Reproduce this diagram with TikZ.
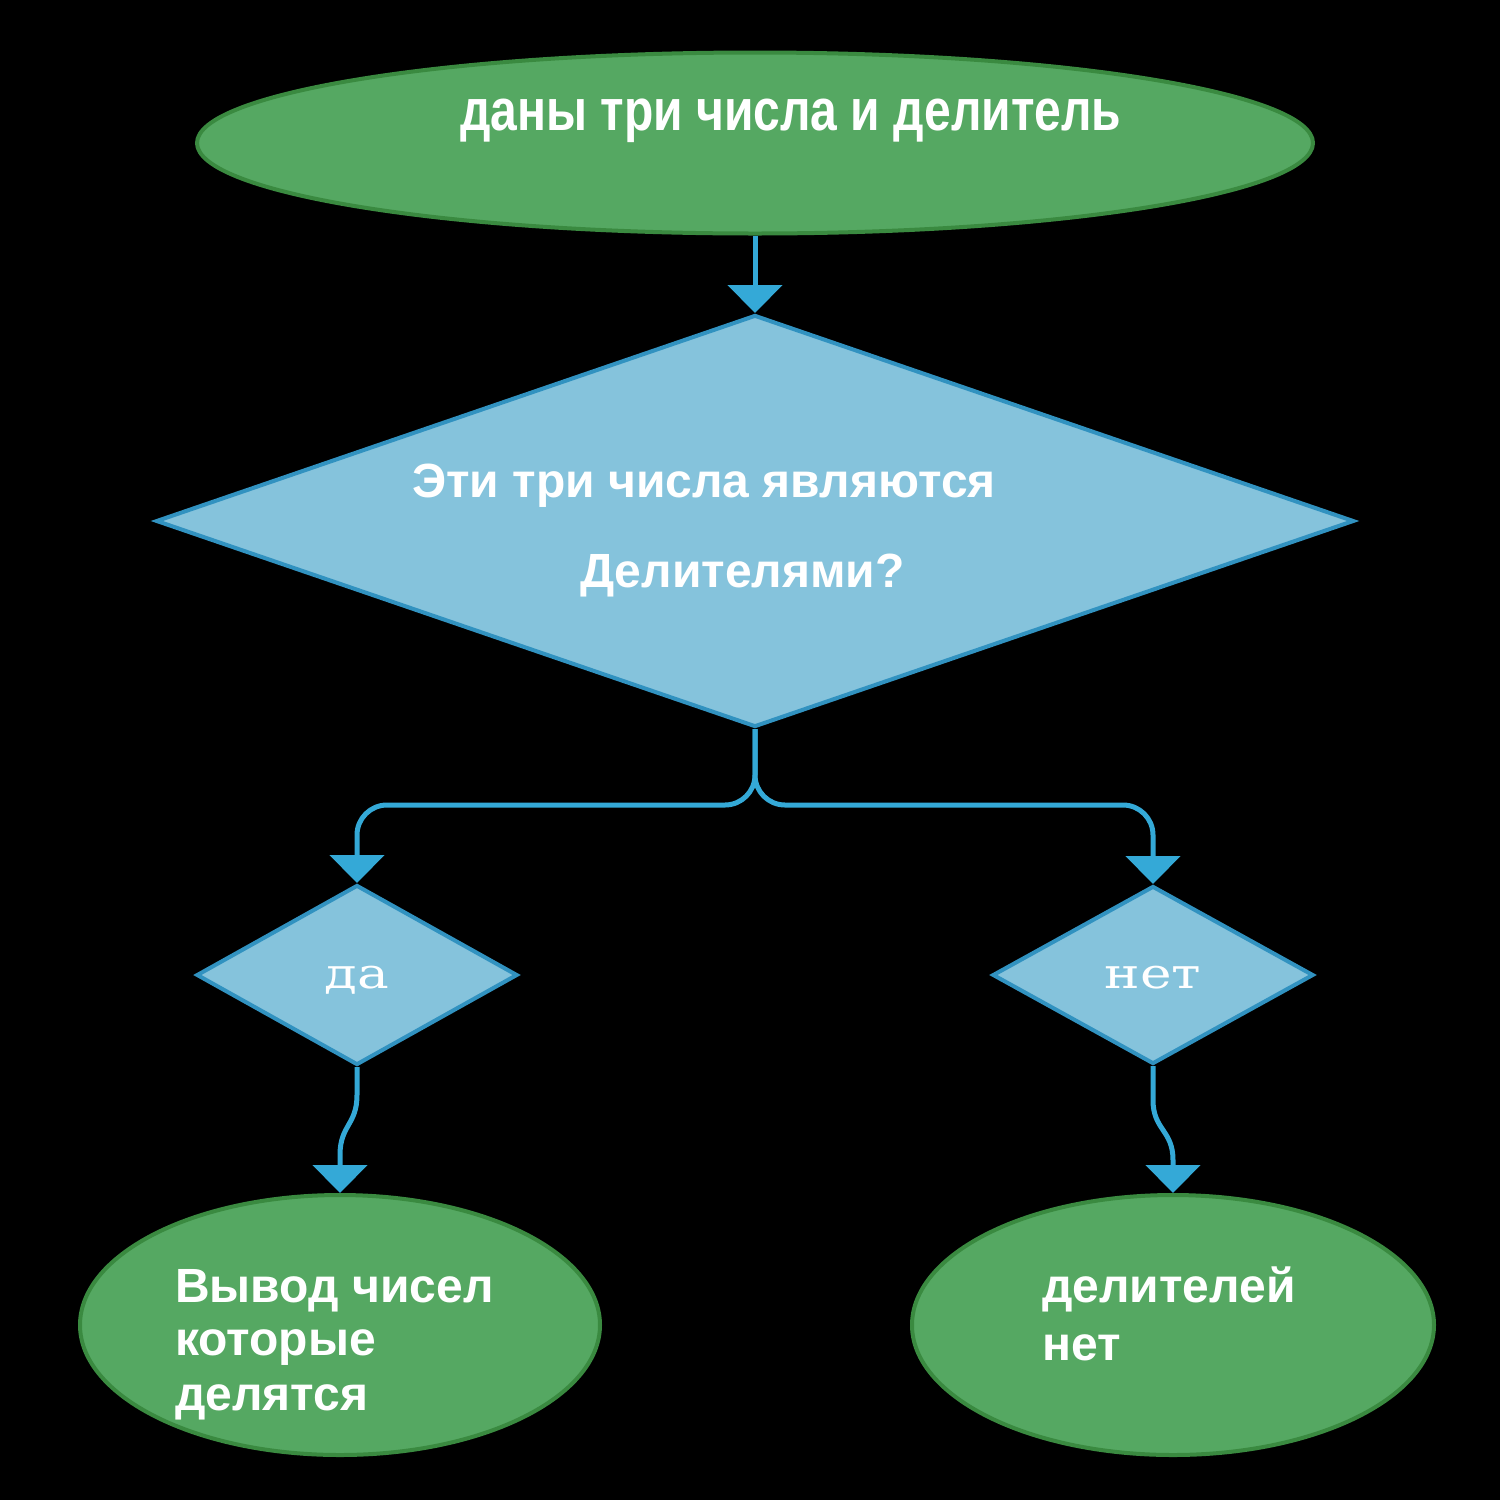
\documentclass[tikz,border=0pt]{standalone}
\usepackage{fontspec}
\setmainfont{Liberation Sans}
\newfontfamily\serifx{DejaVu Serif}
\usetikzlibrary{shapes.geometric,arrows.meta}
\definecolor{gfill}{HTML}{55A862}
\definecolor{gline}{HTML}{3A8A40}
\definecolor{bfill}{HTML}{85C3DC}
\definecolor{bline}{HTML}{3192C0}
\definecolor{conn}{HTML}{34A9D7}
\begin{document}
\begin{tikzpicture}[x=1pt,y=-1pt,
  term/.style={ellipse, draw=gline, fill=gfill, line width=4pt, inner sep=0pt},
  dec/.style={diamond, draw=bline, fill=bfill, line width=4pt, inner sep=0pt},
  txt/.style={text=white, inner sep=0pt, anchor=base west, font=\bfseries\fontsize{48}{55}\selectfont},
  stxt/.style={text=white, inner sep=0pt, anchor=base, font=\serifx\fontsize{42}{48}\selectfont},
  link/.style={draw=conn, line width=5pt, -{Triangle[width=54pt,length=28pt]}}]
\fill[black] (0,0) rectangle (1500,1500);
\useasboundingbox (0,0) rectangle (1500,1500);
% shapes
\node[term, minimum width=1116, minimum height=181] (start) at (755,143) {};
\node[dec, minimum width=1198, minimum height=412] (q) at (755,521) {};
\node[dec, minimum width=321, minimum height=180] (yes) at (357,975) {};
\node[dec, minimum width=321, minimum height=178] (no) at (1153,975) {};
\node[term, minimum width=520, minimum height=260] (out) at (340,1325) {};
\node[term, minimum width=522, minimum height=260] (none) at (1173,1325) {};
% texts
\node[txt] (t1) at (460,130) {\scalebox{1.0}[1.22]{даны три числа и делитель}};
\node[txt] (t2) at (412,497) {Эти три числа являются};
\node[txt] (t3) at (580,587) {Делителями?};
\node[stxt] (t4) at (357,988) {\scalebox{1.27}[1]{да}};
\node[stxt] (t5) at (1153,988) {\scalebox{1.27}[1]{нет}};
\node[txt] (t6) at (175,1302) {Вывод чисел};
\node[txt] (t7) at (175,1355) {которые};
\node[txt] (t8) at (175,1410) {делятся};
\node[txt] (t9) at (1042,1302) {делителей};
\node[txt] (t10) at (1042,1360) {нет};
% connectors
\coordinate (split) at (755,805);
\draw[link] (start.south) -- (q.north);
\draw[link, rounded corners=30pt] (q.south) -- (q.south |- split) -| (yes.north);
\draw[link, rounded corners=30pt] (q.south) -- (q.south |- split) -| (no.north);
\coordinate (ya) at (357,1095);
\coordinate (yb) at (340,1155);
\coordinate (na) at (1153,1100);
\coordinate (nb) at (1173,1160);
\draw[link] (yes.south) -- (ya) .. controls +(0,30) and +(0,-30) .. (yb) -- (out.north);
\draw[link] (no.south) -- (na) .. controls +(0,30) and +(0,-30) .. (nb) -- (none.north);
\end{tikzpicture}
\end{document}
